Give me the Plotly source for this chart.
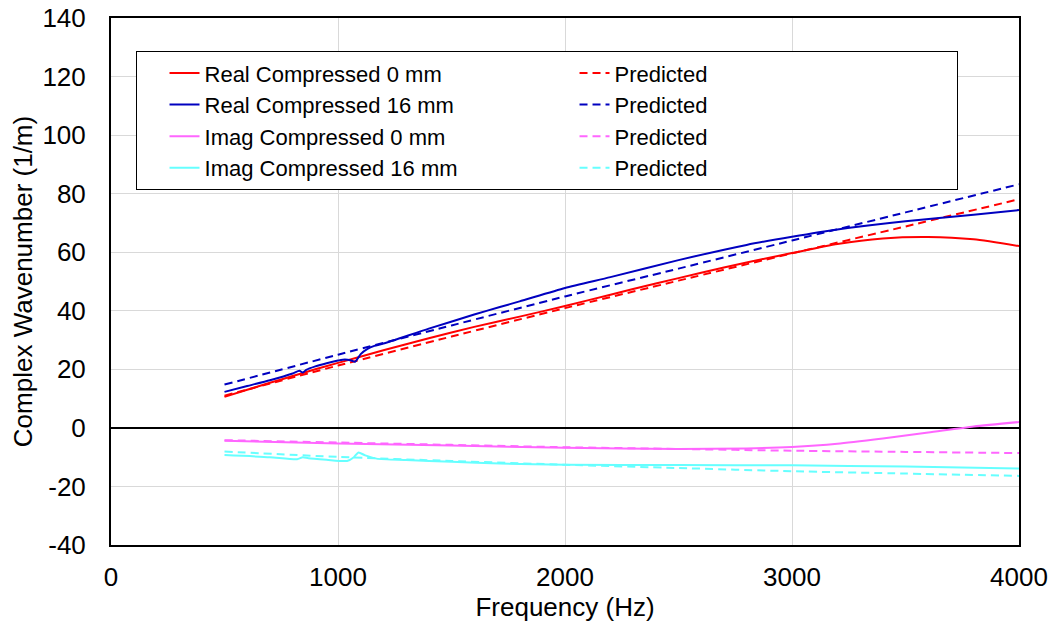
import plotly.graph_objects as go

# ---- data ----
f_real0 = [500, 600, 700, 800, 900, 1000, 1200, 1400, 1600, 1800, 2000, 2200, 2400, 2600, 2800, 3000, 3200, 3400, 3600, 3800, 4000]
real0 = [10.6, 13.0, 15.4, 17.7, 20.0, 22.2, 26.5, 30.6, 34.5, 38.0, 41.6, 45.5, 49.3, 53.0, 56.5, 59.7, 62.8, 64.7, 65.2, 64.4, 62.1]

f_pred = [500, 1000, 1500, 2000, 2500, 3000, 3500, 4000]
pred_real0 = [11.0, 21.3, 31.2, 40.9, 50.3, 59.6, 68.8, 78.1]

f_real16 = [500, 600, 700, 800, 830, 845, 860, 900, 950, 1000, 1030, 1060, 1075, 1100, 1130, 1160, 1200, 1400, 1600, 1713, 1800, 2000, 2200, 2500, 2800, 3000, 3200, 3500, 3800, 4000]
real16 = [12.3, 14.3, 16.3, 18.6, 19.5, 18.9, 19.8, 21.0, 22.1, 23.0, 23.4, 23.0, 22.6, 25.2, 27.0, 28.0, 28.8, 33.9, 38.7, 41.3, 43.2, 47.8, 51.5, 57.3, 62.5, 65.3, 67.8, 70.6, 72.8, 74.4]
pred_real16 = [14.8, 25.0, 35.0, 44.9, 54.4, 64.0, 73.6, 83.2]

f_imag0 = [500, 1000, 1500, 2000, 2500, 2800, 3000, 3200, 3400, 3600, 3800, 4000]
imag0 = [-4.4, -5.3, -6.0, -6.8, -7.2, -7.0, -6.5, -5.4, -3.6, -1.6, 0.5, 2.0]
pred_imag0 = [-4.2, -5.0, -5.8, -6.6, -7.2, -7.8, -8.2, -8.6]

f_imag16 = [500, 700, 820, 845, 870, 950, 1040, 1070, 1090, 1120, 1170, 1300, 1500, 1714, 2000, 2500, 3000, 3500, 4000]
imag16 = [-9.3, -10.0, -10.7, -10.0, -10.4, -10.9, -11.3, -10.0, -8.4, -9.4, -10.5, -11.0, -11.6, -12.2, -12.6, -12.7, -12.8, -13.2, -13.9]
pred_imag16 = [-8.1, -9.9, -11.3, -12.6, -13.7, -14.8, -15.6, -16.4]

names = ["Real Compressed 0 mm", "Real Compressed 16 mm", "Imag Compressed 0 mm", "Imag Compressed 16 mm"]
pred_name = "Predicted"

x_ticks = [0, 1000, 2000, 3000, 4000]
y_ticks = [-40, -20, 0, 20, 40, 60, 80, 100, 120, 140]
y_ticktext = ["-40", "-20", "0", "20", "40", "60", "80", "100", "120", "140"]

RED, BLUE, MAG, CYAN = "#FF0000", "#0000C0", "#FF66FF", "#66FFFF"
FONT = "Arial, Liberation Sans, sans-serif"

series = [
    (names[0], f_real0, real0, pred_real0, RED),
    (names[1], f_real16, real16, pred_real16, BLUE),
    (names[2], f_imag0, imag0, pred_imag0, MAG),
    (names[3], f_imag16, imag16, pred_imag16, CYAN),
]

fig = go.Figure()
for name, fx, fy, py, col in series:
    fig.add_trace(go.Scatter(x=fx, y=fy, mode="lines", name=name,
                             line=dict(color=col, width=2, shape="spline", smoothing=0.6)))
    fig.add_trace(go.Scatter(x=f_pred, y=py, mode="lines", name=pred_name,
                             line=dict(color=col, width=2, dash="8px,5px", shape="spline", smoothing=0.6)))

axis_common = dict(
    showline=True, linecolor="black", linewidth=2, mirror=True,
    showgrid=True, gridcolor="#d9d9d9", gridwidth=1,
    ticks="outside", ticklen=0, automargin=False,
    tickfont=dict(family=FONT, size=26, color="black"),
)

fig.update_xaxes(range=[0, 4000], tickvals=x_ticks,
                 title=dict(text="Frequency (Hz)", font=dict(family=FONT, size=26, color="black"), standoff=2),
                 ticklabelstandoff=8, zeroline=False, **axis_common)
fig.update_yaxes(range=[-40, 140], tickvals=y_ticks, ticktext=y_ticktext,
                 title=dict(text="Complex Wavenumber (1/m)", font=dict(family=FONT, size=26, color="black"), standoff=2),
                 ticklabelstandoff=18, zeroline=True, zerolinecolor="black", zerolinewidth=2, **axis_common)

fig.update_layout(
    width=1057, height=628,
    margin=dict(l=111, r=38, t=18, b=83),
    paper_bgcolor="white", plot_bgcolor="white",
    font=dict(family=FONT, color="black"),
    legend=dict(
        orientation="h", x=0.027, y=0.937, xanchor="left", yanchor="top",
        entrywidth=337, entrywidthmode="pixels", indentation=28,
        font=dict(family=FONT, size=22, color="black"),
        bgcolor="white", bordercolor="black", borderwidth=1,
        traceorder="normal",
    ),
)

fig.write_html("out.html")
